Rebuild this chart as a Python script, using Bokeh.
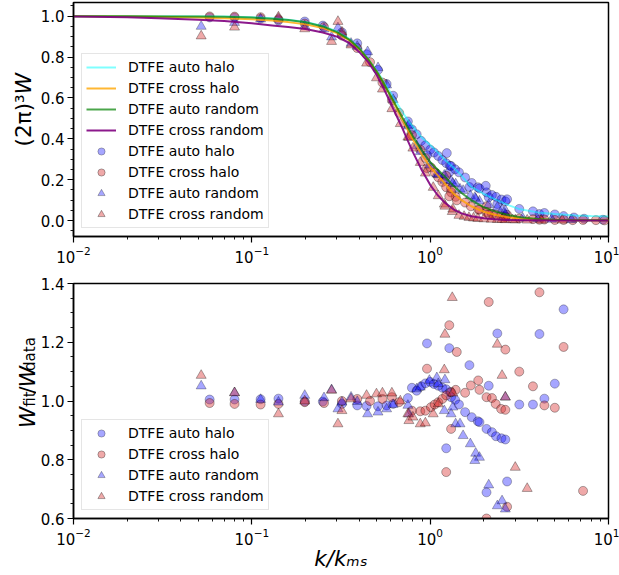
import math
from bokeh.plotting import figure
from bokeh.layouts import column, row
from bokeh.models import Range1d, FixedTicker, Legend, LegendItem, PrintfTickFormatter
from bokeh.core.properties import value
from bokeh.embed import file_html
from bokeh.resources import INLINE

# ---------------- data ----------------
# fitted curves (top panel)
k_fit = [0.01, 0.02, 0.03, 0.05, 0.07, 0.1, 0.13, 0.16, 0.2, 0.25, 0.3, 0.35, 0.4, 0.45, 0.5, 0.55,
         0.6, 0.65, 0.7, 0.75, 0.8, 0.9, 1.0, 1.1, 1.2, 1.35, 1.5, 1.7, 2.0, 2.3, 2.7, 3.2, 4.0,
         5.0, 6.5, 8.0, 10.0]
fit_auto_halo = [1.0, 1.0, 1.0, 0.999, 0.998, 0.995, 0.99, 0.983, 0.972, 0.952, 0.925, 0.89, 0.845,
                 0.79, 0.735, 0.68, 0.625, 0.575, 0.53, 0.49, 0.46, 0.405, 0.37, 0.335, 0.30, 0.26,
                 0.22, 0.165, 0.13, 0.105, 0.078, 0.055, 0.04, 0.032, 0.025, 0.022, 0.02]
fit_cross_halo = [1.0, 0.999, 0.997, 0.993, 0.99, 0.985, 0.979, 0.971, 0.96, 0.942, 0.917, 0.883,
                  0.84, 0.787, 0.73, 0.67, 0.608, 0.548, 0.492, 0.442, 0.397, 0.322, 0.262, 0.222,
                  0.185, 0.132, 0.1, 0.07, 0.043, 0.028, 0.017, 0.01, 0.005, 0.003, 0.002, 0.001, 0.001]
fit_auto_random = [1.0, 1.0, 0.999, 0.998, 0.997, 0.993, 0.988, 0.981, 0.97, 0.95, 0.922, 0.887,
                   0.842, 0.788, 0.73, 0.67, 0.61, 0.555, 0.503, 0.455, 0.412, 0.342, 0.285, 0.25,
                   0.218, 0.17, 0.135, 0.1, 0.065, 0.045, 0.028, 0.016, 0.008, 0.004, 0.002, 0.001, 0.001]
fit_cross_random = [0.999, 0.995, 0.99, 0.982, 0.976, 0.965, 0.955, 0.947, 0.937, 0.92, 0.9, 0.87,
                    0.825, 0.775, 0.715, 0.645, 0.575, 0.51, 0.45, 0.39, 0.335, 0.245, 0.175, 0.125,
                    0.09, 0.055, 0.035, 0.021, 0.011, 0.006, 0.003, 0.002, 0.001, 0.0, 0.0, 0.0, 0.0]

# measured W (top panel)
k_ah = [0.058, 0.080, 0.112, 0.141, 0.198, 0.25, 0.32, 0.39, 0.44, 0.51, 0.57, 0.62, 0.75, 0.79, 0.84,
        0.89, 0.94, 1.0, 1.05, 1.11, 1.17, 1.23, 1.29, 0.96, 1.28, 1.31, 1.38, 1.45, 1.57, 1.66, 1.71,
        1.85, 1.89, 2.07, 2.13, 2.22, 2.34, 2.38, 2.51, 2.64, 1.24, 2.05, 2.7, 3.16, 3.77, 4.1, 4.37,
        5.0, 5.6, 6.4, 7.3, 9.3]
W_ah = [0.994, 0.993, 0.988, 0.979, 0.974, 0.954, 0.921, 0.867, 0.814, 0.737, 0.668, 0.611, 0.485,
        0.446, 0.422, 0.39, 0.368, 0.347, 0.333, 0.316, 0.296, 0.281, 0.268, 0.32, 0.236, 0.267, 0.251,
        0.236, 0.211, 0.164, 0.184, 0.163, 0.157, 0.138, 0.114, 0.125, 0.116, 0.081, 0.103, 0.094,
        0.33, 0.17, 0.104, 0.057, 0.045, 0.032, 0.037, 0.030, 0.022, 0.015, 0.009, 0.004]
k_ch = [0.058, 0.080, 0.112, 0.141, 0.198, 0.254, 0.32, 0.39, 0.46, 0.54, 0.61, 0.67, 0.79, 0.88, 0.94,
        1.01, 1.06, 1.11, 1.17, 1.23, 1.31, 1.39, 0.96, 1.28, 1.41, 1.57, 1.69, 1.86, 1.89, 2.07, 2.22,
        2.33, 2.5, 2.64, 2.13, 2.64, 3.16, 3.77, 4.1, 4.37, 5.0, 5.6, 7.2, 1.31, 1.23, 2.07, 2.7,
        6.3, 8.5, 9.5]
W_ch = [0.999, 0.998, 0.995, 0.985, 0.964, 0.947, 0.905, 0.844, 0.775, 0.675, 0.588, 0.527, 0.418,
        0.347, 0.306, 0.26, 0.235, 0.212, 0.189, 0.163, 0.138, 0.116, 0.257, 0.119, 0.099, 0.088, 0.07,
        0.054, 0.053, 0.041, 0.034, 0.029, 0.024, 0.02, 0.029, 0.016, 0.01, 0.007, 0.004, 0.005, 0.003,
        0.003, 0.003, 0.157, 0.219, 0.07, 0.028, 0.002, 0.002, 0.001]
k_ar = [0.052, 0.08, 0.112, 0.141, 0.198, 0.254, 0.28, 0.304, 0.32, 0.36, 0.39, 0.446, 0.51, 0.57,
        0.62, 0.75, 0.76, 0.84, 0.88, 0.99, 1.09, 1.11, 1.21, 1.2, 1.31, 1.34, 1.39, 1.47, 1.53, 1.68,
        1.8, 1.89, 1.78, 2.13, 2.38, 2.53, 2.64, 2.64, 3.3, 4.0, 4.8, 6.2]
W_ar = [0.95, 0.969, 0.986, 0.989, 0.952, 0.937, 0.898, 0.943, 0.912, 0.867, 0.852, 0.826, 0.748,
        0.663, 0.592, 0.462, 0.467, 0.365, 0.337, 0.271, 0.227, 0.224, 0.197, 0.222, 0.194, 0.182,
        0.179, 0.154, 0.147, 0.122, 0.106, 0.095, 0.113, 0.078, 0.065, 0.053, 0.049, 0.031, 0.012,
        0.008, 0.006, 0.004]
k_cr = [0.052, 0.08, 0.141, 0.198, 0.28, 0.304, 0.32, 0.36, 0.44, 0.5, 0.54, 0.61, 0.68, 0.75, 0.76,
        0.8, 0.88, 0.94, 1.04, 1.11, 1.2, 1.21, 1.33, 1.34, 2.38, 2.53, 2.64, 3.0, 3.5, 1.45, 1.55,
        1.65, 1.75, 1.85, 2.0, 2.2, 2.9, 4.2, 5.5]
W_cr = [0.903, 0.946, 0.996, 0.938, 0.876, 0.974, 0.922, 0.859, 0.77, 0.698, 0.643, 0.547, 0.474,
        0.408, 0.407, 0.354, 0.284, 0.232, 0.162, 0.121, 0.08, 0.07, 0.044, 0.056, 0.005, 0.005, 0.004,
        0.003, 0.002, 0.025, 0.02, 0.015, 0.012, 0.01, 0.008, 0.006, 0.004, 0.002, 0.002]

# ratio W_fit / W_data (bottom panel)
kr_ah = [0.058, 0.080, 0.112, 0.141, 0.198, 0.25, 0.32, 0.39, 0.44, 0.51, 0.57, 0.62, 0.75, 0.79, 0.84,
         0.89, 0.94, 1.0, 1.05, 1.11, 1.17, 1.23, 1.29, 0.96, 1.28, 1.31, 1.38, 1.45, 1.57, 1.66, 1.71,
         1.85, 1.89, 2.07, 2.13, 2.22, 2.34, 2.38, 2.51, 2.64, 1.23, 2.07, 2.7, 3.16, 3.77, 4.1, 4.37,
         5.0, 5.6]
r_ah = [1.005, 1.005, 1.006, 1.008, 0.998, 0.998, 0.99, 0.985, 0.983, 0.982, 0.985, 0.99, 1.01, 1.045,
        1.035, 1.05, 1.06, 1.065, 1.058, 1.052, 1.045, 1.04, 1.03, 1.196, 1.18, 1.013, 1.004, 0.988,
        0.962, 1.122, 0.945, 0.931, 0.928, 0.905, 1.052, 0.894, 0.88, 1.23, 0.873, 0.869, 0.839, 0.689,
        0.726, 0.988, 0.988, 1.228, 1.008, 1.059, 1.312]
kr_ch = [0.058, 0.080, 0.112, 0.141, 0.198, 0.254, 0.32, 0.39, 0.46, 0.54, 0.61, 0.67, 0.79, 0.88, 0.94,
         1.01, 1.06, 1.11, 1.17, 1.23, 1.31, 1.39, 0.96, 1.28, 1.41, 1.57, 1.69, 1.86, 1.89, 2.07, 2.22,
         2.33, 2.5, 2.64, 2.13, 2.64, 3.16, 3.77, 4.1, 4.37, 5.0, 5.6, 7.2, 1.31, 1.23, 2.07, 2.7]
r_ch = [0.993, 0.99, 0.988, 0.99, 0.996, 0.993, 1.0, 1.007, 1.0, 1.007, 1.013, 0.996, 0.967, 0.965,
        0.967, 0.979, 0.988, 0.996, 1.007, 1.019, 1.03, 1.038, 1.11, 1.258, 1.167, 1.028, 1.053, 1.07,
        1.038, 1.013, 1.01, 0.99, 0.973, 0.97, 1.337, 1.175, 1.1, 1.05, 1.37, 0.985, 0.977, 1.184,
        0.694, 0.905, 0.758, 0.6, 0.64]
kr_ar = [0.052, 0.08, 0.112, 0.141, 0.198, 0.254, 0.28, 0.304, 0.32, 0.36, 0.39, 0.446, 0.51, 0.57,
         0.62, 0.75, 0.76, 0.84, 0.88, 0.99, 1.09, 1.11, 1.21, 1.2, 1.31, 1.34, 1.39, 1.47, 1.53, 1.68,
         1.8, 1.89, 1.78, 2.13, 2.38, 2.53, 2.64, 2.64]
r_ar = [1.051, 1.028, 1.005, 0.996, 1.019, 1.011, 1.038, 0.973, 0.996, 1.013, 0.998, 0.956, 0.962,
        0.973, 0.988, 0.985, 0.956, 1.041, 1.047, 1.07, 1.079, 1.059, 1.072, 0.967, 0.956, 0.979, 0.922,
        0.922, 0.882, 0.854, 0.822, 0.808, 0.797, 0.714, 0.643, 0.66, 0.632, 1.013]
kr_cr = [0.052, 0.08, 0.141, 0.198, 0.28, 0.304, 0.32, 0.36, 0.44, 0.5, 0.54, 0.61, 0.68, 0.75, 0.76,
         0.8, 0.88, 0.94, 1.04, 1.11, 1.2, 1.21, 1.33, 1.34, 2.38, 2.53, 2.64, 3.0, 3.5]
r_cr = [1.087, 1.028, 0.956, 1.0, 1.036, 0.922, 0.967, 1.007, 1.019, 1.024, 1.027, 1.027, 1.0, 0.956,
        0.933, 0.945, 0.922, 0.925, 0.956, 0.99, 1.106, 1.227, 1.352, 1.027, 1.193, 1.087, 1.013,
        0.774, 0.702]

labels = ["DTFE auto halo", "DTFE cross halo", "DTFE auto random", "DTFE cross random"]
x_major = [0.01, 0.1, 1.0, 10.0]
top_yticks = [0.0, 0.2, 0.4, 0.6, 0.8, 1.0]
bot_yticks = [0.6, 0.8, 1.0, 1.2, 1.4]

# ---------------- styling ----------------
FONT = "DejaVu Sans"
LAB_W = 36
x_minor = [m * 10.0 ** e for e in (-2, -1, 0) for m in range(2, 10)]
top_yminor = [round(-0.05 + 0.05 * i, 2) for i in range(23)]
bot_yminor = [round(0.6 + 0.05 * i, 2) for i in range(17)]

line_colors = ["#00ffff", "#ffa500", "#008000", "#800080"]
line_alphas = [0.5, 0.8, 0.7, 0.9]
mk = [("circle", "blue", 0.35, 9), ("circle", "#d62728", 0.4, 9),
      ("triangle", "blue", 0.35, 10), ("triangle", "#d62728", 0.4, 10)]


def style(p, yticks, yminor):
    p.xgrid.visible = False
    p.ygrid.visible = False
    p.outline_line_color = "black"
    p.outline_line_width = 1.5
    p.outline_line_alpha = 1.0
    p.background_fill_color = "white"
    p.border_fill_color = "white"
    p.xaxis.ticker = FixedTicker(ticks=x_major, minor_ticks=x_minor)
    p.yaxis.ticker = FixedTicker(ticks=yticks, minor_ticks=yminor)
    p.yaxis.formatter = PrintfTickFormatter(format="%.1f")
    for ax in (p.xaxis[0], p.yaxis[0]):
        ax.axis_line_color = "black"
        ax.axis_line_width = 1.5
        ax.major_tick_line_color = "black"
        ax.major_tick_line_width = 1.2
        ax.minor_tick_line_color = "black"
        ax.minor_tick_line_width = 0.9
        ax.major_tick_out = 6
        ax.major_tick_in = 0
        ax.minor_tick_out = 3
        ax.minor_tick_in = 0
        ax.major_label_text_font = FONT
        ax.major_label_text_font_size = "15px"
        ax.major_label_text_color = "black"
        ax.major_label_standoff = 3


def make_legend(items):
    return Legend(items=items, location=(8, 8), label_text_font=FONT, label_text_font_size="14px",
                  label_text_color="black", glyph_width=30, glyph_height=18, label_height=18,
                  spacing=3, padding=4, label_standoff=12, border_line_color="#cccccc",
                  border_line_width=1, background_fill_color="white", background_fill_alpha=0.8,
                  margin=0)


def label_fig(height):
    f = figure(width=LAB_W, height=height, x_range=Range1d(0, LAB_W), y_range=Range1d(height, 0),
               min_border=0, toolbar_location=None, output_backend="svg")
    f.axis.visible = False
    f.grid.visible = False
    f.outline_line_color = None
    f.background_fill_color = "white"
    f.border_fill_color = "white"
    return f


def put(f, x, y, text, size, style_="normal", align="left"):
    f.text(x=[x], y=[y], text=[text], angle=math.pi / 2, text_font=value(FONT),
           text_font_size=value(size), text_font_style=value(style_), text_color="black",
           text_align=value(align), text_baseline=value("alphabetic"))


# ---------------- top panel ----------------
p1 = figure(x_axis_type="log", x_range=Range1d(0.01, 10), y_range=Range1d(-0.078, 1.067),
            frame_width=535, frame_height=234, min_border_left=73 - LAB_W, min_border_right=11,
            min_border_top=2, min_border_bottom=34, toolbar_location=None, output_backend="svg")
style(p1, top_yticks, top_yminor)

top_sets = [(k_ah, W_ah), (k_ch, W_ch), (k_ar, W_ar), (k_cr, W_cr)]
sc1 = []
for (kx, wy), (marker, col, alpha, size) in zip(top_sets, mk):
    sc1.append(p1.scatter(kx, wy, marker=marker, size=size, fill_color=col, fill_alpha=alpha,
                          line_color="black", line_alpha=alpha, line_width=0.8))
ln1 = []
for fy, col, a in zip([fit_auto_halo, fit_cross_halo, fit_auto_random, fit_cross_random],
                      line_colors, line_alphas):
    ln1.append(p1.line(k_fit, fy, line_color=col, line_alpha=a, line_width=2))

items1 = [LegendItem(label=l, renderers=[r]) for l, r in zip(labels, ln1)] + \
         [LegendItem(label=l, renderers=[r]) for l, r in zip(labels, sc1)]
p1.add_layout(make_legend(items1))

lab1 = label_fig(270)
put(lab1, 23, 106, "(2π)³", "21.5px", "normal", "right")
put(lab1, 23, 106, "W", "21.5px", "italic", "left")

# ---------------- bottom panel ----------------
p2 = figure(x_axis_type="log", x_range=Range1d(0.01, 10), y_range=Range1d(0.6, 1.4),
            frame_width=535, frame_height=235, min_border_left=73 - LAB_W, min_border_right=11,
            min_border_top=13, min_border_bottom=57, toolbar_location=None, output_backend="svg")
style(p2, bot_yticks, bot_yminor)
p2.xaxis.axis_label = "k/kₘₛ"
p2.xaxis.axis_label_text_font = FONT
p2.xaxis.axis_label_text_font_size = "21.5px"
p2.xaxis.axis_label_text_font_style = "italic"
p2.xaxis.axis_label_text_color = "black"
p2.xaxis.axis_label_standoff = -2

bot_sets = [(kr_ah, r_ah), (kr_ch, r_ch), (kr_ar, r_ar), (kr_cr, r_cr)]
sc2 = []
for (kx, ry), (marker, col, alpha, size) in zip(bot_sets, mk):
    sc2.append(p2.scatter(kx, ry, marker=marker, size=size, fill_color=col, fill_alpha=alpha,
                          line_color="black", line_alpha=alpha, line_width=0.8))
items2 = [LegendItem(label=l, renderers=[r]) for l, r in zip(labels, sc2)]
p2.add_layout(make_legend(items2))

lab2 = label_fig(305)
put(lab2, 26.5, 160.0, "W", "21.5px", "italic", "right")
put(lab2, 29.5, 160.0, "fit", "15px", "normal", "left")
put(lab2, 26.5, 138.5, "/", "21.5px", "normal", "center")
put(lab2, 26.5, 134.5, "W", "21.5px", "italic", "left")
put(lab2, 29.5, 113.5, "data", "15px", "normal", "left")

layout = column(row(lab1, p1, spacing=0), row(lab2, p2, spacing=0), spacing=0)
open("out.html", "w").write(file_html(layout, INLINE))
